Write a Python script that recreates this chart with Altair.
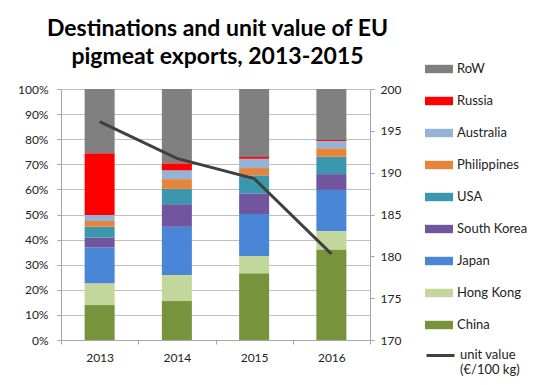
import altair as alt
import pandas as pd

years = ['2013', '2014', '2015', '2016']
countries = ['China', 'Hong Kong', 'Japan', 'South Korea', 'USA',
             'Philippines', 'Australia', 'Russia', 'RoW']
china = [13.9, 15.5, 26.6, 36.1]
hong_kong = [8.7, 10.4, 6.9, 7.3]
japan = [14.2, 19.2, 16.7, 16.4]
south_korea = [4.0, 9.0, 8.2, 6.3]
usa = [4.3, 6.1, 7.2, 6.9]
philippines = [2.3, 3.9, 2.9, 3.4]
australia = [2.4, 3.5, 3.7, 2.9]
russia = [24.6, 2.8, 0.7, 0.4]
row_ = [25.6, 29.6, 27.1, 20.3]
unit_value = [196.1, 191.7, 189.3, 180.3]
colors = ['#77933C', '#C3D69B', '#4A86D8', '#71559E', '#3A97AD',
          '#E6853A', '#95B3D7', '#FF0000', '#808080']

series = [china, hong_kong, japan, south_korea, usa, philippines, australia, russia, row_]
recs = []
for i, (c, vals) in enumerate(zip(countries, series)):
    for y, v in zip(years, vals):
        recs.append({'year': y, 'country': c, 'share': v / 100.0, 'idx': i})
df = pd.DataFrame(recs)
df_line = pd.DataFrame({'year': years, 'uv': unit_value, 'series': ['unit value|(€/100 kg)'] * 4})

FONT = 'Lato'
legend_order = countries[::-1]
legend_colors = colors[::-1]

x_enc = alt.X('year:N', scale=alt.Scale(paddingInner=0, paddingOuter=0),
              axis=alt.Axis(title=None, labelAngle=0, tickBand='extent', tickSize=4,
                            domainColor='#a6a6a6', tickColor='#a6a6a6', labelPadding=8,
                            labelFontSize=12, labelColor='#222222', labelFont=FONT))

bars = alt.Chart(df).mark_bar(size=30).encode(
    x=x_enc,
    y=alt.Y('share:Q', stack='zero', scale=alt.Scale(domain=[0, 1]),
            axis=alt.Axis(title=None, format='.0%', values=[i / 10 for i in range(11)],
                          grid=True, gridColor='#bfbfbf', domainColor='#a6a6a6',
                          tickColor='#a6a6a6', tickSize=4, labelPadding=9,
                          labelFontSize=12, labelColor='#222222', labelFont=FONT)),
    color=alt.Color('country:N', scale=alt.Scale(domain=legend_order, range=legend_colors),
                    legend=alt.Legend(title=None, orient='none', legendX=364, legendY=-34,
                                      symbolType='M-1,-0.3H1V0.3H-1Z', symbolSize=784,
                                      symbolStrokeWidth=0, symbolOpacity=1,
                                      labelFontSize=13, labelFont=FONT, labelColor='#222222',
                                      labelOffset=4, rowPadding=11)),
    order=alt.Order('idx:Q', sort='ascending'),
)

line = alt.Chart(df_line).mark_line(strokeWidth=3).encode(
    x=alt.X('year:N'),
    y=alt.Y('uv:Q', scale=alt.Scale(domain=[170, 200], zero=False),
            axis=alt.Axis(title=None, orient='right', values=list(range(170, 201, 5)),
                          grid=False, domainColor='#a6a6a6', tickColor='#a6a6a6',
                          tickSize=4, labelPadding=6, labelFontSize=12,
                          labelColor='#222222', labelFont=FONT)),
    stroke=alt.Stroke('series:N', scale=alt.Scale(range=['#404040']),
                      legend=alt.Legend(title=None, orient='none', legendX=364, legendY=244,
                                        symbolType='M-1,0.5H1', symbolSize=784,
                                        symbolStrokeWidth=3, labelFontSize=13, labelFont=FONT,
                                        labelColor='#222222', labelOffset=4,
                                        labelBaseline='top',
                                        labelExpr="split(datum.label, '|')")),
)

chart = alt.layer(bars, line).resolve_scale(y='independent').properties(
    width=309, height=251,
    title=alt.Title(['Destinations and unit value of EU', 'pigmeat exports, 2013-2015'],
                    fontSize=23, font=FONT, fontWeight='bold', anchor='middle', dx=2,
                    lineHeight=28, offset=-14, color='#000000'),
    autosize=alt.AutoSizeParams(type='none'),
    padding={'left': 53, 'top': 81, 'right': 168, 'bottom': 37},
).configure_view(stroke=None)

chart.save('out.html', embed_options={'renderer': 'svg', 'actions': False})
